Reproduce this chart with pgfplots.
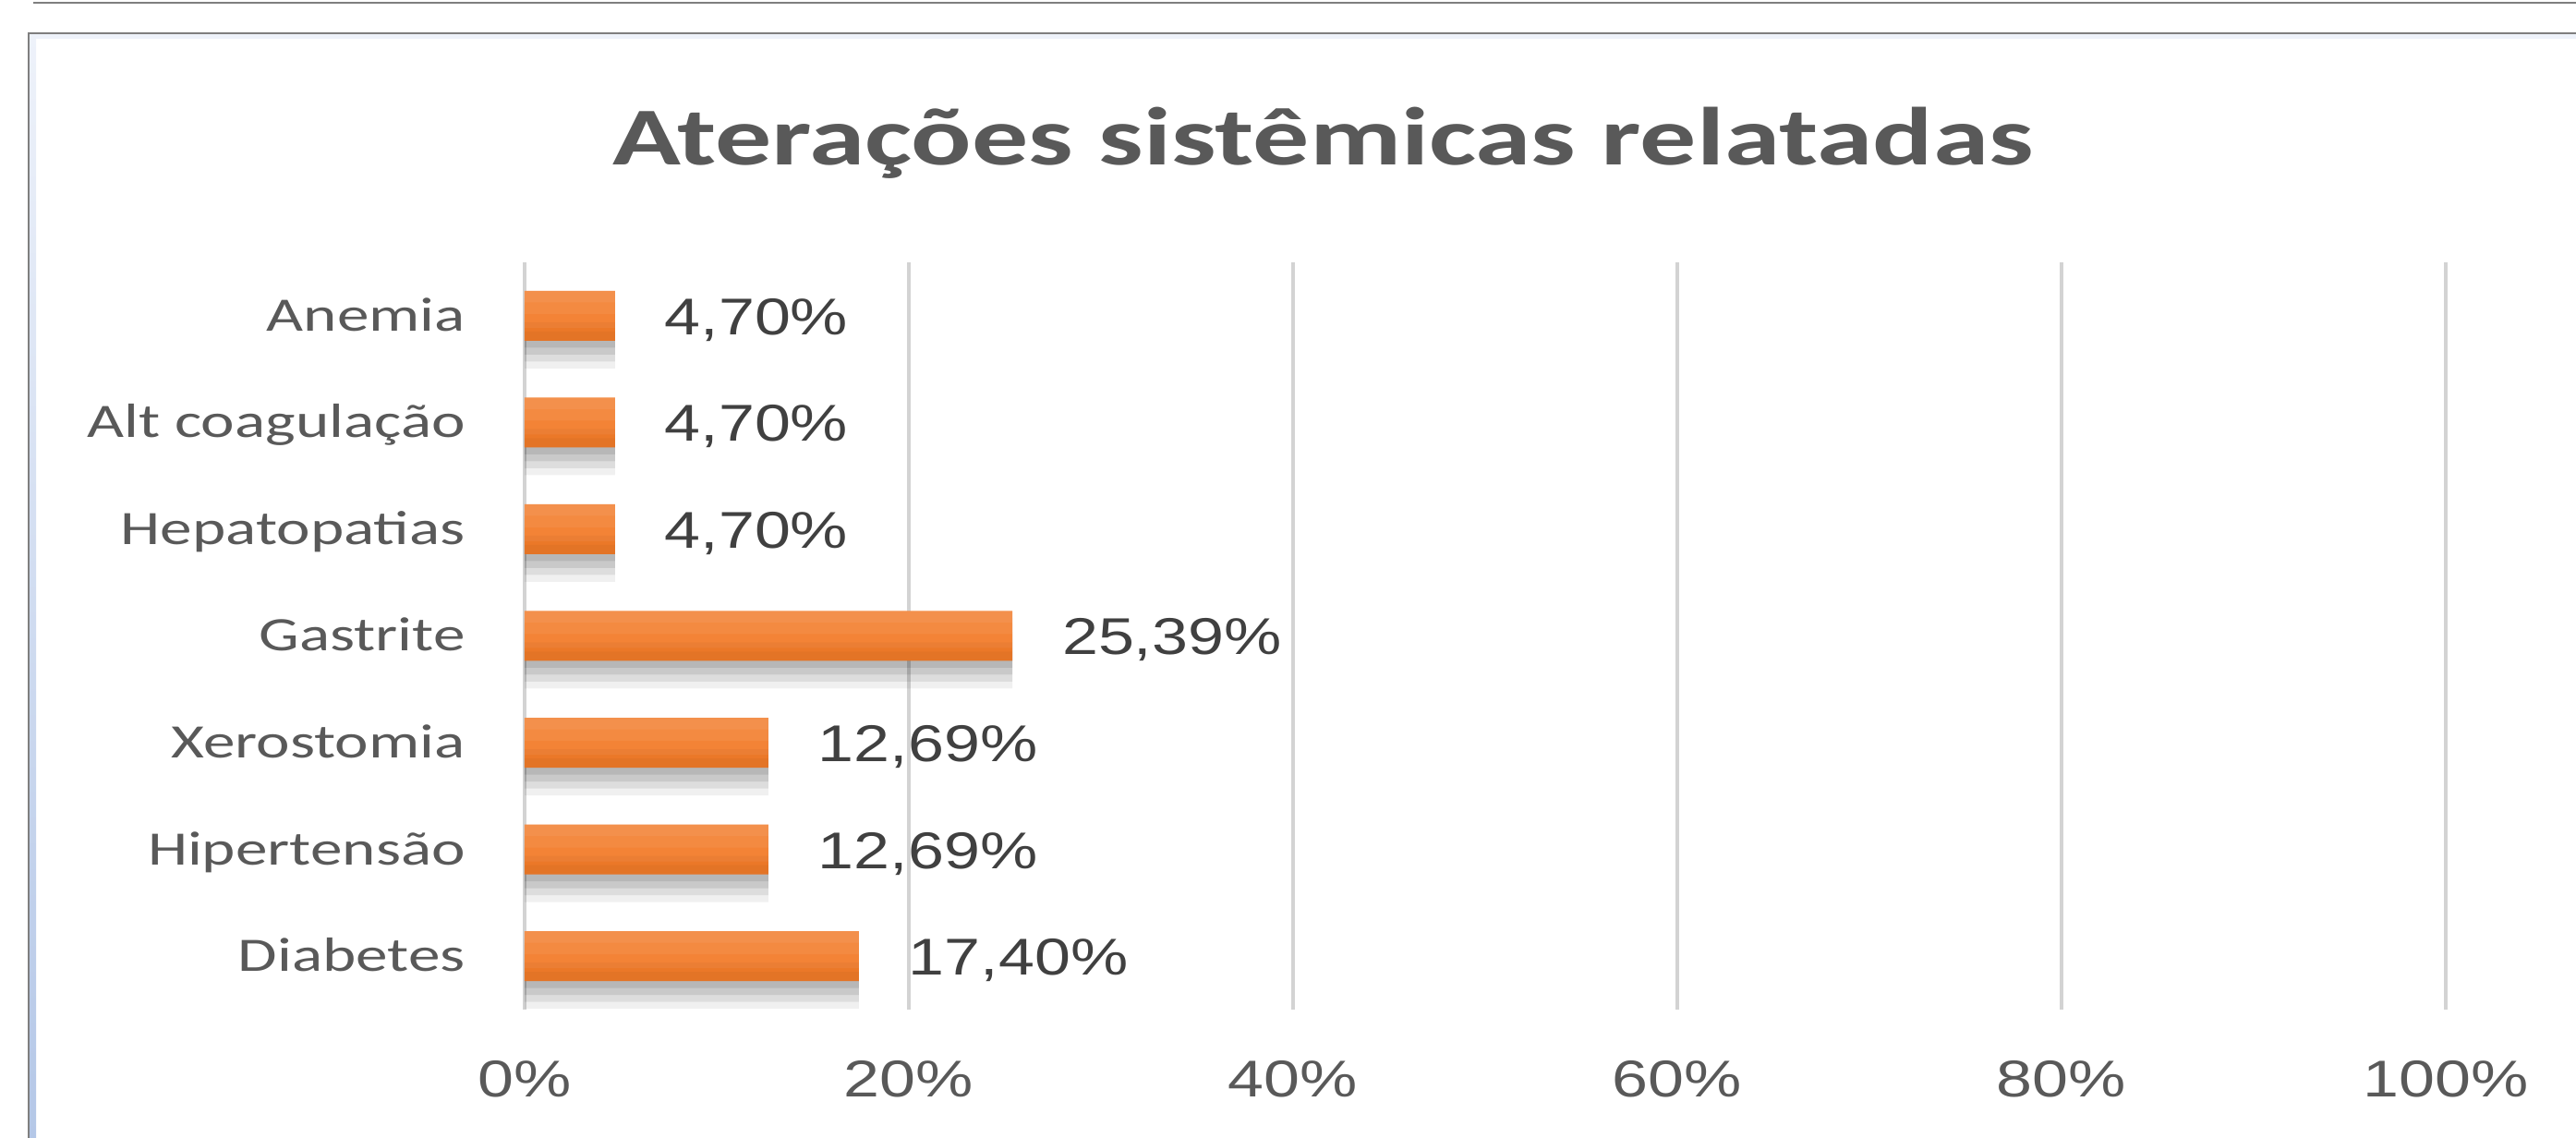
\documentclass[border=0pt]{standalone}
\usepackage{fontspec}
\usepackage{pgfplots}
\pgfplotsset{compat=1.18}
\newfontfamily\titlefont[FakeStretch=1.37]{Carlito}
\newfontfamily\catfont[FakeStretch=1.33]{Carlito}
\newfontfamily\numfont[FakeStretch=1.25]{Liberation Sans}
\definecolor{txt}{HTML}{595959}
\definecolor{lbl}{HTML}{404040}
\definecolor{gridc}{HTML}{D3D3D3}
\definecolor{barmain}{HTML}{F37C2A}
\definecolor{framec}{HTML}{7F7F7F}
\definecolor{blueA}{HTML}{B4C7E7}
\definecolor{blueB}{HTML}{EEF2FA}
\pgfplotstableread{
x y
17.40 0
12.69 1
12.69 2
25.39 3
4.70 4
4.70 5
4.70 6
}\bars
\begin{document}
\begin{tikzpicture}
\useasboundingbox (0,0) rectangle (557.8pt,246.4pt);
\fill[top color=blueB, bottom color=blueA] (6.4pt,0) rectangle (7.8pt,239pt);
\fill[blueB] (6.4pt,238pt) rectangle (557.8pt,239pt);
\draw[framec, line width=0.45pt] (6.2pt,0) -- (6.2pt,239.2pt) -- (557.8pt,239.2pt);
\draw[framec, line width=0.45pt] (7.2pt,245.8pt) -- (557.8pt,245.8pt);
\node[anchor=base, text=txt, inner sep=0pt, font=\titlefont\bfseries\fontsize{17.8}{20}\selectfont] at (286.5pt,210.6pt) {Aterações sistêmicas relatadas};
\begin{axis}[
  at={(113.6pt,27.8pt)}, anchor=south west,
  scale only axis, width=416pt, height=161.8pt,
  xmin=0, xmax=100, ymin=-0.5, ymax=6.5,
  xbar, bar width=10.8pt,
  axis line style={draw=none},
  major tick style={draw=none},
  xmajorgrids, grid style={gridc, line width=0.9pt},
  xtick={0,20,40,60,80,100},
  xticklabels={0\%,20\%,40\%,60\%,80\%,100\%},
  ytick={0,1,2,3,4,5,6},
  yticklabels={Diabetes,Hipertensão,Xerostomia,Gastrite,Hepatopatias,Alt coagulação,Anemia},
  xticklabel style={font=\numfont\fontsize{11.2}{13}\selectfont, text=txt, anchor=base, inner sep=0pt, yshift=-19pt},
  yticklabel style={font=\catfont\fontsize{10.4}{12}\selectfont, text=txt, anchor=base east, inner sep=0pt, xshift=-8.4pt, yshift=-3.3pt},
  clip=false,
]
% soft shadow below the bars
\addplot[xbar, bar shift=-1.5pt, fill=black, fill opacity=0.09, draw=none, forget plot] table[x=x,y=y] {\bars};
\addplot[xbar, bar shift=-3pt, fill=black, fill opacity=0.09, draw=none, forget plot] table[x=x,y=y] {\bars};
\addplot[xbar, bar shift=-4.5pt, fill=black, fill opacity=0.08, draw=none, forget plot] table[x=x,y=y] {\bars};
\addplot[xbar, bar shift=-6pt, fill=black, fill opacity=0.06, draw=none, forget plot] table[x=x,y=y] {\bars};
% main bars
\addplot[xbar, bar shift=0pt, draw=none, fill=barmain,
  point meta=explicit symbolic, nodes near coords,
  nodes near coords style={font=\numfont\fontsize{11.2}{13}\selectfont, text=lbl, anchor=base west, inner sep=0pt, xshift=10.6pt, yshift=-4.1pt}]
  coordinates {(17.40,0) [17,40\%] (12.69,1) [12,69\%] (12.69,2) [12,69\%] (25.39,3) [25,39\%] (4.70,4) [4,70\%] (4.70,5) [4,70\%] (4.70,6) [4,70\%]};
% gradient: lighter top, darker bottom
\addplot[xbar, bar width=8pt, bar shift=1.4pt, fill=white, fill opacity=0.06, draw=none, forget plot] table[x=x,y=y] {\bars};
\addplot[xbar, bar width=5pt, bar shift=2.9pt, fill=white, fill opacity=0.06, draw=none, forget plot] table[x=x,y=y] {\bars};
\addplot[xbar, bar width=2.5pt, bar shift=4.15pt, fill=white, fill opacity=0.06, draw=none, forget plot] table[x=x,y=y] {\bars};
\addplot[xbar, bar width=4pt, bar shift=-3.4pt, fill=black, fill opacity=0.03, draw=none, forget plot] table[x=x,y=y] {\bars};
\addplot[xbar, bar width=2pt, bar shift=-4.4pt, fill=black, fill opacity=0.03, draw=none, forget plot] table[x=x,y=y] {\bars};
\end{axis}
\end{tikzpicture}
\end{document}
